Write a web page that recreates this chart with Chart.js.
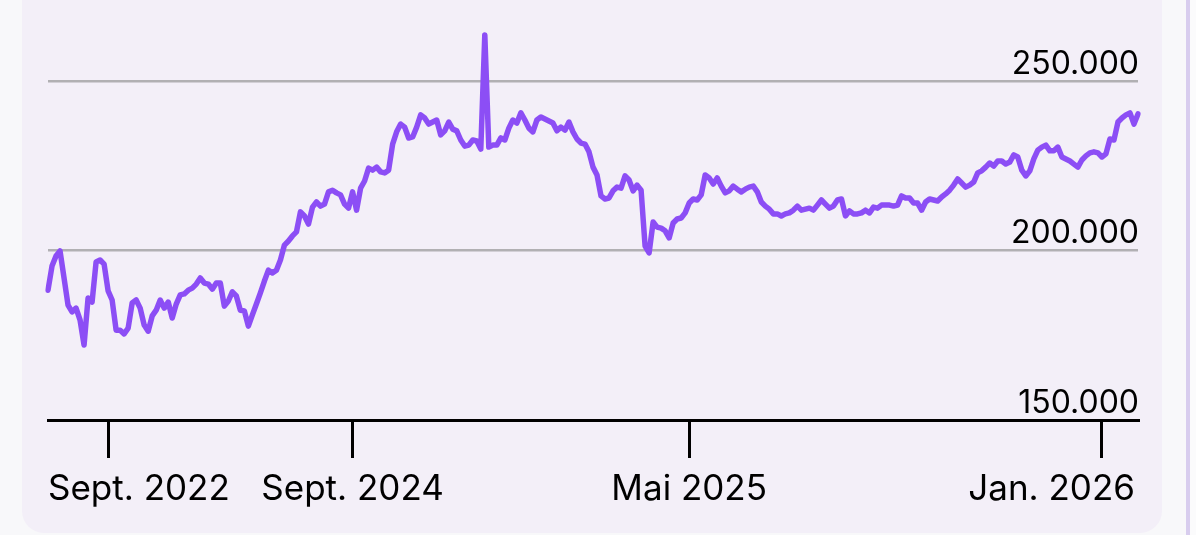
<!DOCTYPE html>
<html>
<head>
<meta charset="utf-8">
<script src="https://cdn.jsdelivr.net/npm/chart.js@4.4.1/dist/chart.umd.min.js"></script>
<style>
  html, body { margin: 0; padding: 0; width: 1196px; height: 535px; overflow: hidden; background: #f8f8fa; }
  .karte { position: absolute; left: 22px; top: -30px; width: 1140px; height: 563px; background: #f3eff8; border-radius: 22px; }
  .rand { position: absolute; left: 1186px; top: 0; width: 4px; height: 535px; background: #d8cdee; }
  .rest { position: absolute; left: 1190px; top: 0; width: 6px; height: 535px; background: #fbfbfc; }
  #wrap { position: absolute; left: 0; top: 0; width: 1196px; height: 535px; }
</style>
</head>
<body>
<div class="karte"></div>
<div class="rand"></div>
<div class="rest"></div>
<div id="wrap"><canvas id="chart" width="1196" height="535"></canvas></div>
<script>
const werte = [
  188300, 195400, 198400, 199900, 191900, 183900, 181900, 183000, 179500, 172100,
  186000, 184800, 196600, 197200, 196000, 188100, 185400, 176500, 176500, 175400,
  177100, 184500, 185400, 183000, 178000, 176200, 180700, 182400, 185400, 183000,
  184800, 180100, 184200, 186900, 187200, 188300, 188900, 190100, 191900, 190400,
  190100, 188600, 190400, 190400, 183600, 185100, 187800, 186600, 182400, 182200,
  177700, 181000, 184200, 187500, 191000, 194200, 193400, 194200, 197200, 201600,
  202800, 204300, 205500, 211400, 210200, 207800, 212800, 214300, 213100, 213700,
  217300, 217800, 217000, 216400, 213700, 212500, 217300, 211900, 218400, 220500,
  224300, 223700, 224600, 223200, 222900, 223700, 231400, 235000, 237300, 236400,
  233200, 233500, 236400, 240000, 239100, 237300, 237900, 238500, 234100, 235300,
  237900, 235800, 235300, 232600, 230800, 231100, 232600, 232300, 229900, 263600,
  230500, 231100, 231100, 233200, 232600, 236100, 238500, 237600, 240600, 238500,
  236100, 235000, 238500, 239400, 238800, 238200, 237600, 235300, 236400, 235500,
  237900, 235000, 232900, 231700, 231400, 229100, 224600, 222300, 216100, 215200,
  215500, 217600, 218700, 218400, 222000, 220800, 217600, 219300, 217800, 201300,
  199300, 208400, 206900, 206600, 205800, 203700, 208100, 209300, 209600, 211100,
  214000, 215200, 214900, 216400, 222300, 221400, 219600, 221400, 219000, 217000,
  217600, 219000, 218100, 217300, 218100, 218700, 219000, 217300, 214300, 213100,
  212200, 210800, 210800, 210200, 210800, 211100, 211900, 213100, 211900, 212200,
  212500, 211900, 213400, 214900, 213700, 212500, 213100, 214900, 215200, 210200,
  211700, 210800, 210800, 211100, 211900, 211100, 212800, 212500, 213400, 213400,
  213400, 213100, 213400, 216100, 215500, 215500, 214000, 214000, 211900, 214300,
  215200, 214900, 214600, 215800, 216700, 217800, 219300, 221100, 219900, 218700,
  219300, 220200, 222900, 223500, 224600, 225800, 224900, 226400, 226400, 225500,
  226100, 228200, 227600, 223700, 222000, 223500, 227000, 229600, 230500, 231100,
  229400, 229400, 230500, 227600, 227000, 226400, 225500, 224600, 226700, 227900,
  228800, 229100, 228800, 227600, 228500, 232900, 232600, 237900, 239100, 240000,
  240600, 237300, 240300
];

// Positionen der Monatsmarken im Verlauf
const tickIndex = [15, 76, 160, 263];
const tickLabels = ['Sept. 2022', 'Sept. 2024', 'Mai 2025', 'Jan. 2026'];
const yTicks = [150000, 200000, 250000];

const labels = werte.map((w, i) => {
    const k = tickIndex.indexOf(i);
    return k >= 0 ? tickLabels[k] : '';
});

function tausender(v) {
    return String(v).replace(/\B(?=(\d{3})+(?!\d))/g, '.');
}

// Beschriftung der x-Achse, an den Rand des Diagramms geklemmt
const xBeschriftung = {
    id: 'xBeschriftung',
    afterDraw(chart) {
        const sc = chart.scales.x;
        const area = chart.chartArea;
        const ctx = chart.ctx;
        ctx.save();
        ctx.font = '35px Inter';
        ctx.fillStyle = '#000';
        ctx.textAlign = 'left';
        ctx.textBaseline = 'alphabetic';
        sc.ticks.forEach(t => {
            const text = labels[t.value];
            const w = ctx.measureText(text).width;
            let x = sc.getPixelForValue(t.value) - w / 2;
            x = Math.max(area.left, Math.min(area.right - 3 - w, x));
            ctx.fillText(text, x, 500);
        });
        ctx.restore();
    }
};

const ctx = document.getElementById('chart').getContext('2d');
new Chart(ctx, {
    type: 'line',
    data: {
        labels: labels,
        datasets: [{
            data: werte,
            borderColor: '#8c4ef5',
            borderWidth: 5.5,
            borderJoinStyle: 'round',
            borderCapStyle: 'round',
            pointRadius: 0,
            tension: 0,
            fill: false
        }]
    },
    options: {
        responsive: false,
        animation: false,
        layout: { padding: { left: 48, right: 58, top: 0, bottom: 77 } },
        plugins: {
            legend: { display: false },
            tooltip: { enabled: false }
        },
        scales: {
            x: {
                afterBuildTicks: s => { s.ticks = tickIndex.map(i => ({ value: i })); },
                afterFit: s => { s.height = 38; s.paddingLeft = 0; s.paddingRight = 0; },
                border: { display: true, color: '#000', width: 3 },
                grid: { drawOnChartArea: false, drawTicks: true, tickLength: 38, color: '#000', lineWidth: 3 },
                ticks: { display: false }
            },
            y: {
                position: 'right',
                min: 150000,
                max: 273900,
                afterBuildTicks: s => { s.ticks = yTicks.map(v => ({ value: v })); },
                afterFit: s => { s.width = 0; s.paddingTop = 0; s.paddingBottom = 0; },
                border: { display: false },
                grid: {
                    drawTicks: false,
                    lineWidth: 2.5,
                    color: c => (c.tick && c.tick.value === 150000) ? 'rgba(0,0,0,0)' : '#b1b0b3'
                },
                ticks: {
                    mirror: true,
                    padding: 1,
                    labelOffset: -17,
                    color: '#000',
                    font: { family: 'Inter', size: 32 },
                    callback: v => tausender(v)
                }
            }
        }
    },
    plugins: [xBeschriftung]
});
</script>
</body>
</html>
